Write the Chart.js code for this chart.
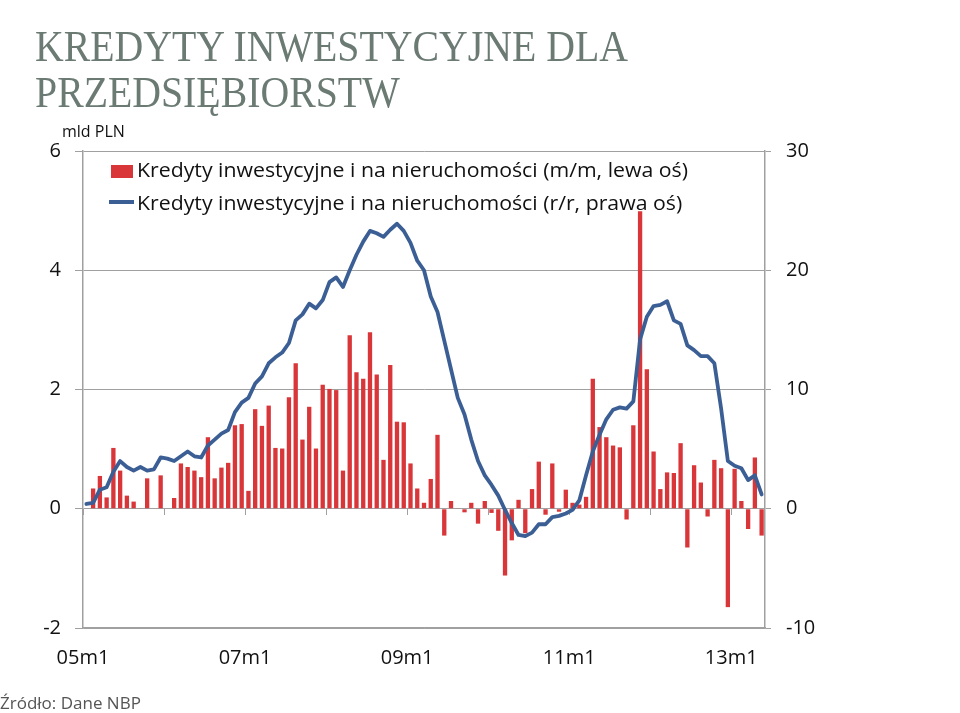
<!DOCTYPE html>
<html><head><meta charset="utf-8">
<script src="https://cdn.jsdelivr.net/npm/chart.js@4.4.0/dist/chart.umd.min.js"></script>
<style>
html,body{margin:0;padding:0;background:#fff;}
#wrap{position:relative;width:960px;height:713px;overflow:hidden;background:#fff;}
#c{position:absolute;left:0;top:0;width:960px;height:713px;}
.t{position:absolute;left:35px;font-family:'Liberation Serif',serif;font-size:45px;line-height:45px;color:#6b7b74;white-space:nowrap;transform-origin:0 0;}
#unit{position:absolute;left:62px;top:121px;font-family:'Open Sans',sans-serif;font-size:16px;line-height:20px;color:#111;}
.lg{position:absolute;left:137px;font-family:'Open Sans',sans-serif;font-size:20px;line-height:20px;color:#111;white-space:nowrap;transform-origin:0 0;}
#sq{position:absolute;left:111px;top:165px;width:22px;height:13px;background:#d9363a;}
#ln{position:absolute;left:109px;top:200px;width:25px;height:4px;background:#3b5f95;}
#src{position:absolute;left:0px;top:693px;font-family:'Open Sans',sans-serif;font-size:17px;line-height:20px;color:#555;white-space:nowrap;}
</style></head><body>
<div id="wrap">
<canvas id="c" width="960" height="713"></canvas>
<div class="t" id="t1" style="top:24px">KREDYTY INWESTYCYJNE DLA</div>
<div class="t" id="t2" style="top:70px">PRZEDSIĘBIORSTW</div>
<div id="unit">mld PLN</div>
<div id="sq"></div>
<div class="lg" id="lg1" style="top:160px"></div>
<div id="ln"></div>
<div class="lg" id="lg2" style="top:193px"></div>
<div id="src">Źródło: Dane NBP</div>
</div>
<script>
const categories = [
 '05m1','05m2','05m3','05m4','05m5','05m6','05m7','05m8','05m9','05m10','05m11','05m12',
 '06m1','06m2','06m3','06m4','06m5','06m6','06m7','06m8','06m9','06m10','06m11','06m12',
 '07m1','07m2','07m3','07m4','07m5','07m6','07m7','07m8','07m9','07m10','07m11','07m12',
 '08m1','08m2','08m3','08m4','08m5','08m6','08m7','08m8','08m9','08m10','08m11','08m12',
 '09m1','09m2','09m3','09m4','09m5','09m6','09m7','09m8','09m9','09m10','09m11','09m12',
 '10m1','10m2','10m3','10m4','10m5','10m6','10m7','10m8','10m9','10m10','10m11','10m12',
 '11m1','11m2','11m3','11m4','11m5','11m6','11m7','11m8','11m9','11m10','11m11','11m12',
 '12m1','12m2','12m3','12m4','12m5','12m6','12m7','12m8','12m9','12m10','12m11','12m12',
 '13m1','13m2','13m3','13m4','13m5'
];
// m/m change, bln PLN (left axis)
const barValues = [
 0.0,0.34,0.55,0.19,1.02,0.64,0.22,0.12,0.01,0.51,0.0,0.56,
 0.0,0.18,0.76,0.70,0.64,0.53,1.20,0.51,0.69,0.77,1.40,1.42,
 0.30,1.67,1.39,1.73,1.02,1.01,1.87,2.44,1.16,1.71,1.01,2.08,
 2.01,1.99,0.64,2.91,2.29,2.18,2.96,2.25,0.82,2.41,1.46,1.45,
 0.76,0.34,0.10,0.50,1.24,-0.45,0.13,0.01,-0.06,0.10,-0.25,0.13,
 -0.07,-0.37,-1.12,-0.53,0.15,-0.41,0.33,0.79,-0.10,0.76,-0.05,0.32,
 0.10,0.07,0.20,2.18,1.37,1.20,1.06,1.03,-0.18,1.40,4.99,2.34,
 0.96,0.33,0.61,0.60,1.10,-0.65,0.73,0.44,-0.13,0.82,0.68,-1.65,
 0.67,0.13,-0.34,0.86,-0.45
];
// y/y change, % (right axis)
const lineValues = [
 0.4,0.5,1.6,1.8,3.1,4.0,3.5,3.2,3.5,3.2,3.3,4.3,
 4.2,4.0,4.4,4.8,4.4,4.3,5.3,5.8,6.3,6.6,8.1,8.9,
 9.3,10.5,11.1,12.2,12.7,13.1,13.9,15.8,16.3,17.2,16.8,17.5,
 19.0,19.4,18.6,20.0,21.3,22.4,23.3,23.1,22.8,23.4,23.9,23.3,
 22.3,20.8,20.0,17.8,16.5,14.1,11.7,9.3,7.9,5.8,4.0,2.8,
 2.0,1.1,-0.1,-1.2,-2.2,-2.3,-2.0,-1.3,-1.3,-0.7,-0.6,-0.4,
 -0.1,0.7,2.8,4.8,6.2,7.5,8.3,8.5,8.4,9.0,14.2,16.1,
 17.0,17.1,17.4,15.8,15.5,13.7,13.3,12.8,12.8,12.2,8.4,4.0,
 3.6,3.4,2.4,2.8,1.2
];
const xTickLabels = ['05m1','07m1','09m1','11m1','13m1'];
const leftAxisRange = [-2, 6, 2];
const rightAxisRange = [-10, 30, 10];
const seriesNames = ['Kredyty inwestycyjne i na nieruchomości (m/m, lewa oś)','Kredyty inwestycyjne i na nieruchomości (r/r, prawa oś)'];

document.getElementById('lg1').textContent = seriesNames[0];
document.getElementById('lg2').textContent = seriesNames[1];

// fit text widths (styling only)
(function(){
  const t1 = document.getElementById('t1'), t2 = document.getElementById('t2');
  const s = 593 / t1.getBoundingClientRect().width;
  t1.style.transform = 'scaleX(' + s + ')';
  t2.style.transform = 'scaleX(' + s + ')';
  const l1 = document.getElementById('lg1'), l2 = document.getElementById('lg2');
  const ls = 551 / l1.getBoundingClientRect().width;
  l1.style.transform = 'scaleX(' + ls + ')';
  l2.style.transform = 'scaleX(' + ls + ')';
})();

const GRID = '#a0a0a0';
const tickFont = {family: "'Open Sans', sans-serif", size: 20};
const yearStarts = categories.map((c, i) => c.endsWith('m1') ? i : -1).filter(i => i >= 0);

new Chart(document.getElementById('c'), {
  data: {
    labels: categories,
    datasets: [
      {type: 'line', label: seriesNames[1], data: lineValues, xAxisID: 'x', yAxisID: 'y1',
       borderColor: '#3b5f95', borderWidth: 3.8, pointRadius: 0, tension: 0, order: 0,
       borderJoinStyle: 'round', borderCapStyle: 'round'},
      {type: 'bar', label: seriesNames[0], data: barValues, xAxisID: 'x', yAxisID: 'y',
       backgroundColor: '#d9363a', barPercentage: 0.64, categoryPercentage: 1.0, order: 1}
    ]
  },
  options: {
    responsive: false, animation: false,
    layout: {padding: {top: 151, left: 0, right: 0, bottom: 0}},
    plugins: {legend: {display: false}, tooltip: {enabled: false}},
    scales: {
      x: {type: 'category', display: false, offset: true},
      xl: {type: 'linear', position: 'bottom', min: 0, max: categories.length,
           afterBuildTicks: s => { s.ticks = xTickLabels.map(l => ({value: categories.indexOf(l)})); },
           ticks: {callback: v => categories[v], font: tickFont, color: '#111', padding: 18, maxRotation: 0, autoSkip: false},
           grid: {display: false, drawTicks: false},
           border: {display: true, color: GRID, width: 1.5},
           afterFit: s => { s.height = 85; }},
      xt: {type: 'linear', position: {y: 0}, min: 0, max: categories.length,
           afterBuildTicks: s => { s.ticks = yearStarts.map(v => ({value: v})); },
           ticks: {display: false},
           grid: {drawOnChartArea: false, drawTicks: true, tickLength: 6, color: GRID},
           border: {display: false}},
      y: {type: 'linear', position: 'left', min: leftAxisRange[0], max: leftAxisRange[1],
          ticks: {stepSize: leftAxisRange[2], font: tickFont, color: '#111', padding: 14},
          grid: {color: GRID, tickLength: 8, lineWidth: 1},
          border: {color: GRID, width: 1.5},
          afterFit: s => { s.width = 83; }},
      y1: {type: 'linear', position: 'right', min: rightAxisRange[0], max: rightAxisRange[1],
          ticks: {stepSize: rightAxisRange[2], font: tickFont, color: '#111', padding: 15},
          grid: {drawOnChartArea: false, color: GRID, tickLength: 6},
          border: {color: GRID, width: 1.5},
          afterFit: s => { s.width = 195; }}
    }
  }
});
</script>
</body></html>
